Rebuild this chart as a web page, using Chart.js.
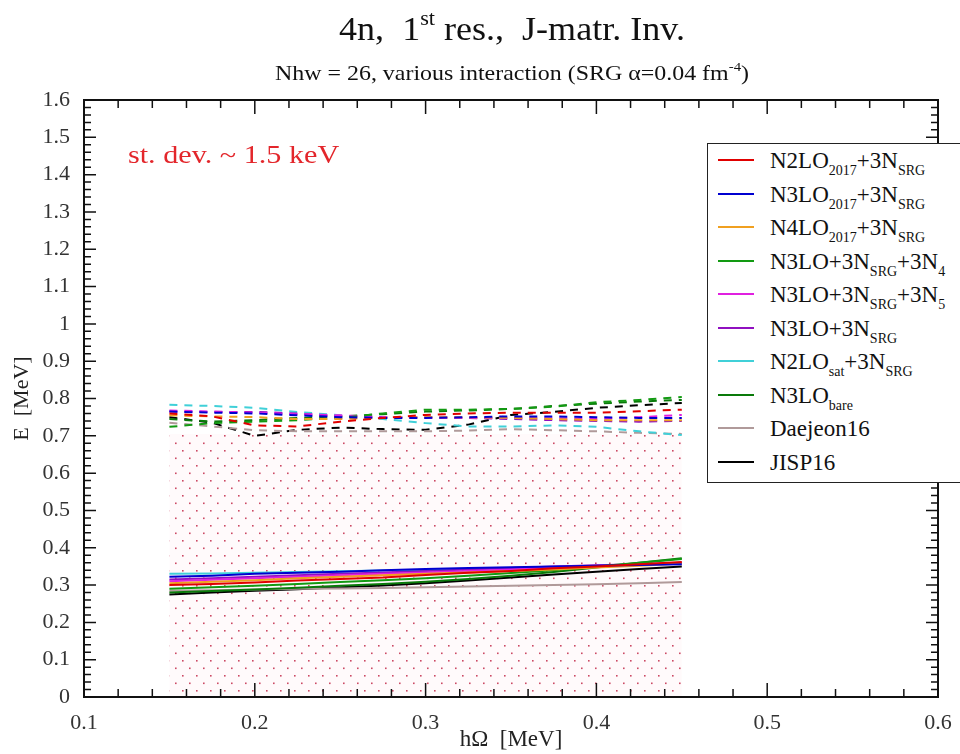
<!DOCTYPE html>
<html>
<head>
<meta charset="utf-8">
<script src="https://cdn.jsdelivr.net/npm/chart.js@4.4.0/dist/chart.umd.min.js"></script>
<style>
  html, body { margin: 0; padding: 0; background: #fff; overflow: hidden; }
  #wrap { position: relative; width: 960px; height: 754px; font-family: "Liberation Serif", "DejaVu Serif", serif; }
  #title { position: absolute; left: 0; width: 1024px; top: 6px; text-align: center; font-size: 34px; color: #111; transform: scaleX(1.06); transform-origin: 512px 0; }
  #title sup { font-size: 21px; vertical-align: 15px; }
  #subtitle { position: absolute; left: 0; width: 1024px; top: 59px; text-align: center; font-size: 21px; color: #111; transform: scaleX(1.14); transform-origin: 512px 0; }
  #subtitle sup { font-size: 13px; vertical-align: 9px; }
  #stdev { position: absolute; left: 128px; top: 140px; font-size: 26px; color: #e3262b; transform: scaleX(1.16); transform-origin: 0 0; }
  #legend { position: absolute; left: 707px; top: 143px; width: 300px; height: 338px; border: 1.5px solid #222; background: #fff; }
  .row { position: absolute; left: 10px; height: 30px; font-size: 23px; color: #111; white-space: nowrap; }
  .row i { display: inline-block; width: 36px; height: 0; border-top: 2px solid; vertical-align: 7px; margin-right: 16px; }
  .row sub { font-size: 14px; vertical-align: -7px; }
</style>
</head>
<body>
<div id="wrap">
  <canvas id="chart" width="960" height="754"></canvas>
  <div id="title">4n,&nbsp; 1<sup>st</sup> res.,&nbsp; J-matr. Inv.</div>
  <div id="subtitle">Nhw = 26, various interaction (SRG &alpha;=0.04 fm<sup>-4</sup>)</div>
  <div id="stdev">st. dev. ~ 1.5 keV</div>
  <div id="legend"></div>
</div>
<script>
// hbar*Omega grid (MeV)
const hw = [0.15, 0.175, 0.2, 0.225, 0.25, 0.275, 0.3, 0.325, 0.35, 0.375, 0.4, 0.425, 0.45];

const names = [
  "N2LO<sub>2017</sub>+3N<sub>SRG</sub>",
  "N3LO<sub>2017</sub>+3N<sub>SRG</sub>",
  "N4LO<sub>2017</sub>+3N<sub>SRG</sub>",
  "N3LO+3N<sub>SRG</sub>+3N<sub>4</sub>",
  "N3LO+3N<sub>SRG</sub>+3N<sub>5</sub>",
  "N3LO+3N<sub>SRG</sub>",
  "N2LO<sub>sat</sub>+3N<sub>SRG</sub>",
  "N3LO<sub>bare</sub>",
  "Daejeon16",
  "JISP16"
];
const colors = ["#e00000", "#0000d0", "#f0a020", "#129a12", "#e020e0", "#9010c0", "#40d0d8", "#0a7a0a", "#b09a9a", "#000000"];

// resonance energy (solid)
const energy = [
  [0.300, 0.303, 0.307, 0.312, 0.316, 0.320, 0.327, 0.333, 0.338, 0.345, 0.350, 0.356, 0.362],
  [0.322, 0.325, 0.330, 0.333, 0.336, 0.340, 0.343, 0.346, 0.348, 0.350, 0.352, 0.354, 0.356],
  [0.305, 0.309, 0.313, 0.318, 0.322, 0.326, 0.330, 0.334, 0.338, 0.342, 0.347, 0.352, 0.358],
  [0.290, 0.294, 0.298, 0.303, 0.308, 0.313, 0.318, 0.325, 0.332, 0.340, 0.350, 0.360, 0.370],
  [0.310, 0.314, 0.318, 0.322, 0.326, 0.330, 0.334, 0.338, 0.342, 0.347, 0.351, 0.356, 0.360],
  [0.315, 0.318, 0.322, 0.326, 0.330, 0.334, 0.338, 0.342, 0.346, 0.350, 0.353, 0.356, 0.358],
  [0.330, 0.331, 0.333, 0.335, 0.337, 0.339, 0.341, 0.343, 0.345, 0.348, 0.351, 0.355, 0.360],
  [0.280, 0.284, 0.288, 0.293, 0.298, 0.303, 0.309, 0.316, 0.325, 0.335, 0.347, 0.360, 0.372],
  [0.285, 0.286, 0.288, 0.290, 0.291, 0.292, 0.294, 0.296, 0.298, 0.300, 0.302, 0.305, 0.308],
  [0.275, 0.280, 0.285, 0.289, 0.294, 0.299, 0.305, 0.312, 0.320, 0.328, 0.336, 0.343, 0.350]
];

// resonance width (dashed)
const width = [
  [0.760, 0.752, 0.728, 0.725, 0.738, 0.748, 0.756, 0.760, 0.762, 0.762, 0.762, 0.766, 0.770],
  [0.765, 0.762, 0.760, 0.755, 0.750, 0.748, 0.748, 0.750, 0.752, 0.752, 0.750, 0.748, 0.748],
  [0.755, 0.752, 0.750, 0.745, 0.745, 0.748, 0.750, 0.750, 0.748, 0.745, 0.742, 0.742, 0.742],
  [0.724, 0.734, 0.738, 0.742, 0.748, 0.760, 0.770, 0.770, 0.772, 0.778, 0.790, 0.796, 0.804],
  [0.768, 0.765, 0.762, 0.758, 0.755, 0.750, 0.748, 0.748, 0.748, 0.747, 0.745, 0.750, 0.756],
  [0.765, 0.764, 0.764, 0.760, 0.752, 0.750, 0.750, 0.748, 0.745, 0.742, 0.740, 0.738, 0.740],
  [0.783, 0.780, 0.775, 0.764, 0.755, 0.745, 0.734, 0.725, 0.725, 0.728, 0.724, 0.712, 0.702],
  [0.745, 0.738, 0.742, 0.748, 0.752, 0.758, 0.765, 0.768, 0.772, 0.780, 0.786, 0.792, 0.796],
  [0.735, 0.725, 0.715, 0.712, 0.712, 0.712, 0.712, 0.714, 0.718, 0.715, 0.712, 0.708, 0.705],
  [0.750, 0.735, 0.700, 0.716, 0.722, 0.718, 0.716, 0.730, 0.756, 0.764, 0.775, 0.782, 0.788]
];

// dotted band
const bandX = [0.15, 0.45];
const bandTop = [0.705, 0.705];

const xTicks = [0.1, 0.2, 0.3, 0.4, 0.5, 0.6];
const yTicks = [0, 0.1, 0.2, 0.3, 0.4, 0.5, 0.6, 0.7, 0.8, 0.9, 1, 1.1, 1.2, 1.3, 1.4, 1.5, 1.6];

// legend (html, so the subscripts come out right)
const legendBox = document.getElementById("legend");
names.forEach(function (n, i) {
  const row = document.createElement("div");
  row.className = "row";
  row.style.top = (4 + i * 33.5) + "px";
  row.innerHTML = '<i style="border-color:' + colors[i] + '"></i>' + n;
  legendBox.appendChild(row);
});

// dot pattern for the band
const pc = document.createElement("canvas");
pc.width = 14; pc.height = 15;
const p = pc.getContext("2d");
p.fillStyle = "#fffafb";
p.fillRect(0, 0, 14, 15);
p.fillStyle = "#cc4a64";
p.fillRect(0, 0, 1.6, 1.6);
p.fillRect(7, 7.5, 1.6, 1.6);
const dots = document.getElementById("chart").getContext("2d").createPattern(pc, "repeat");

const datasets = [{
  data: bandX.map((x, i) => ({ x: x, y: bandTop[i] })),
  borderWidth: 0,
  backgroundColor: dots,
  fill: "origin",
  pointRadius: 0,
  order: 100
}];
names.forEach(function (n, i) {
  datasets.push({
    data: hw.map((x, k) => ({ x: x, y: width[i][k] })),
    borderColor: colors[i],
    borderWidth: 2,
    borderDash: [8, 7],
    pointRadius: 0,
    fill: false
  });
});
names.forEach(function (n, i) {
  datasets.push({
    data: hw.map((x, k) => ({ x: x, y: energy[i][k] })),
    borderColor: colors[i],
    borderWidth: 2,
    pointRadius: 0,
    fill: false
  });
});

// frame and inward ticks, grace style
const frameTicks = {
  id: "frameTicks",
  afterDraw(chart) {
    const c = chart.ctx, a = chart.chartArea;
    const xs = chart.scales.x, ys = chart.scales.y;
    c.save();
    c.strokeStyle = "#111";
    c.lineWidth = 2;
    c.strokeRect(a.left, a.top, a.right - a.left, a.bottom - a.top);
    c.lineWidth = 1.5;
    c.beginPath();
    for (let k = 0; k <= 25; k++) {
      const v = 0.1 + k * 0.02;
      const px = xs.getPixelForValue(v);
      const len = k % 5 === 0 ? 14 : 8;
      c.moveTo(px, a.bottom); c.lineTo(px, a.bottom - len);
      c.moveTo(px, a.top); c.lineTo(px, a.top + len);
    }
    for (let k = 0; k <= 80; k++) {
      const v = k * 0.02;
      const py = ys.getPixelForValue(v);
      const len = k % 5 === 0 ? 12 : 7;
      c.moveTo(a.left, py); c.lineTo(a.left + len, py);
      c.moveTo(a.right, py); c.lineTo(a.right - len, py);
    }
    c.stroke();
    c.restore();
  }
};

const fmt = v => String(Number(v.toFixed(1)));
const serif = "'Liberation Serif', 'DejaVu Serif', serif";

new Chart(document.getElementById("chart"), {
  type: "line",
  data: { datasets: datasets },
  options: {
    responsive: false,
    animation: false,
    layout: { padding: { top: 100, right: 22, left: 0, bottom: 0 } },
    plugins: { legend: { display: false }, tooltip: { enabled: false } },
    scales: {
      x: {
        type: "linear", min: 0.1, max: 0.6,
        afterBuildTicks: s => { s.ticks = xTicks.map(v => ({ value: v })); },
        afterFit: s => { s.height = 57; },
        grid: { display: false },
        border: { display: false },
        ticks: { color: "#333", font: { family: serif, size: 22 }, padding: 5, maxRotation: 0, callback: fmt },
        title: { display: true, text: "hΩ  [MeV]", color: "#222", font: { family: serif, size: 23 }, padding: 0 }
      },
      y: {
        type: "linear", min: 0, max: 1.6,
        afterBuildTicks: s => { s.ticks = yTicks.map(v => ({ value: v })); },
        afterFit: s => { s.width = 84; },
        grid: { display: false },
        border: { display: false },
        ticks: { color: "#333", font: { family: serif, size: 22 }, padding: 6, callback: fmt },
        title: { display: true, text: "E  [MeV]", color: "#222", font: { family: serif, size: 22 }, padding: { top: 9, bottom: 0 } }
      }
    }
  },
  plugins: [frameTicks]
});
</script>
</body>
</html>
